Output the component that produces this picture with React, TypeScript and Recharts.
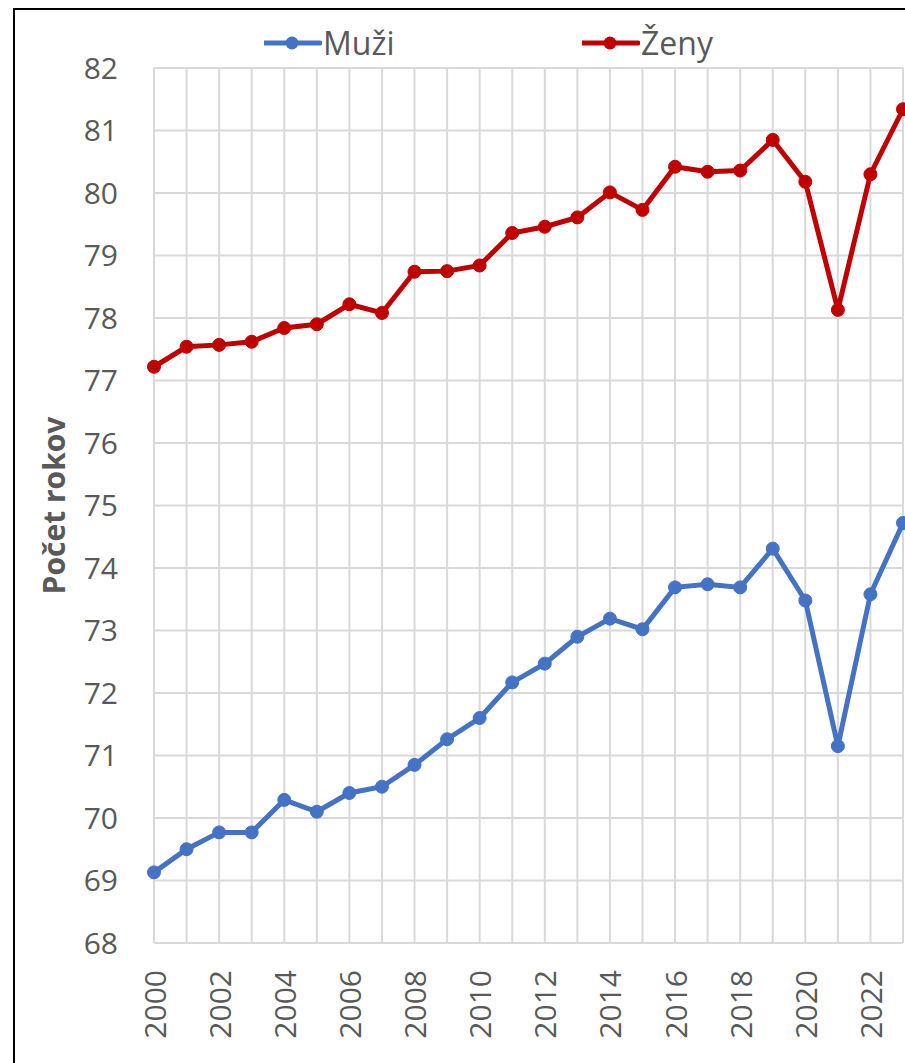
import { LineChart, Line, XAxis, YAxis, CartesianGrid } from 'recharts';

// roky na osi X
const years = [
  2000, 2001, 2002, 2003, 2004, 2005, 2006, 2007, 2008, 2009, 2010, 2011,
  2012, 2013, 2014, 2015, 2016, 2017, 2018, 2019, 2020, 2021, 2022, 2023,
];
const labelYears = [2000, 2002, 2004, 2006, 2008, 2010, 2012, 2014, 2016, 2018, 2020, 2022];

// stredná dĺžka života
const muzi = [
  69.13, 69.5, 69.77, 69.77, 70.29, 70.1, 70.4, 70.5, 70.85, 71.26, 71.6, 72.17,
  72.47, 72.9, 73.19, 73.02, 73.69, 73.74, 73.69, 74.31, 73.48, 71.15, 73.58, 74.72,
];
const zeny = [
  77.22, 77.54, 77.57, 77.62, 77.84, 77.9, 78.22, 78.08, 78.74, 78.75, 78.84, 79.36,
  79.46, 79.61, 80.01, 79.73, 80.42, 80.34, 80.36, 80.85, 80.18, 78.13, 80.3, 81.34,
];

const yTicks = [68, 69, 70, 71, 72, 73, 74, 75, 76, 77, 78, 79, 80, 81, 82];

const series = [
  { key: 'muzi', name: 'Muži', color: '#4472C4' },
  { key: 'zeny', name: 'Ženy', color: '#C00000' },
];

const data = years.map((year, i) => ({ year, muzi: muzi[i], zeny: zeny[i] }));

const FONT = '"Open Sans", "Noto Sans", sans-serif';
const TEXT = '#595959';

function YearTick(props: any) {
  const { x, y, payload } = props;
  if (!labelYears.includes(payload.value)) return <g />;
  return (
    <text
      transform={`translate(${x},${y + 19}) rotate(-90)`}
      textAnchor="end"
      dominantBaseline="central"
      fontSize={30}
      fontFamily={FONT}
      fill={TEXT}
    >
      {payload.value}
    </text>
  );
}

function YTitle(props: any) {
  const vb = props.viewBox || { y: 0, height: 0 };
  const cy = vb.y + vb.height / 2;
  return (
    <text
      transform={`translate(38,${cy}) rotate(-90)`}
      textAnchor="middle"
      dominantBaseline="central"
      fontSize={30}
      fontWeight="bold"
      fontFamily={FONT}
      fill={TEXT}
    >
      Počet rokov
    </text>
  );
}

function LegendItem({ name, color, left }: { name: string; color: string; left: number }) {
  return (
    <div style={{ position: 'absolute', left, top: 13, height: 40, display: 'flex', alignItems: 'center' }}>
      <svg width={58} height={20}>
        <line x1={0} y1={10} x2={56} y2={10} stroke={color} strokeWidth={5} strokeLinecap="round" />
        <circle cx={28} cy={10} r={6.5} fill={color} />
      </svg>
      <span style={{ fontFamily: FONT, fontSize: 32, color: TEXT, marginLeft: 1, lineHeight: '40px' }}>{name}</span>
    </div>
  );
}

export default function App() {
  return (
    <>
      <style>{'body{margin:0;overflow:hidden;}'}</style>
      <div
        style={{
          position: 'absolute',
          left: 13,
          top: 8,
          width: 892,
          height: 1055,
          borderLeft: '2px solid #000',
          borderTop: '2px solid #000',
          boxSizing: 'border-box',
          overflow: 'hidden',
          background: '#fff',
        }}
      >
        <LegendItem name={series[0].name} color={series[0].color} left={249} />
        <LegendItem name={series[1].name} color={series[1].color} left={567} />
        <LineChart width={900} height={1045} data={data} margin={{ top: 58, right: 12, bottom: 2, left: 0 }}>
          <CartesianGrid stroke="#d9d9d9" strokeWidth={2} />
          <XAxis
            type="number"
            dataKey="year"
            domain={[2000, 2023]}
            ticks={years}
            interval={0}
            axisLine={false}
            tickLine={false}
            height={110}
            tick={<YearTick />}
          />
          <YAxis
            domain={[68, 82]}
            ticks={yTicks}
            interval={0}
            width={139}
            tickSize={0}
            tickMargin={36}
            axisLine={false}
            tickLine={false}
            tick={{ fontSize: 30, fill: TEXT, fontFamily: FONT }}
            label={<YTitle />}
          />
          {series.map((s) => (
            <Line
              key={s.key}
              dataKey={s.key}
              name={s.name}
              stroke={s.color}
              strokeWidth={5}
              dot={{ r: 6.5, fill: s.color, stroke: s.color, strokeWidth: 1 }}
              isAnimationActive={false}
            />
          ))}
        </LineChart>
      </div>
    </>
  );
}
